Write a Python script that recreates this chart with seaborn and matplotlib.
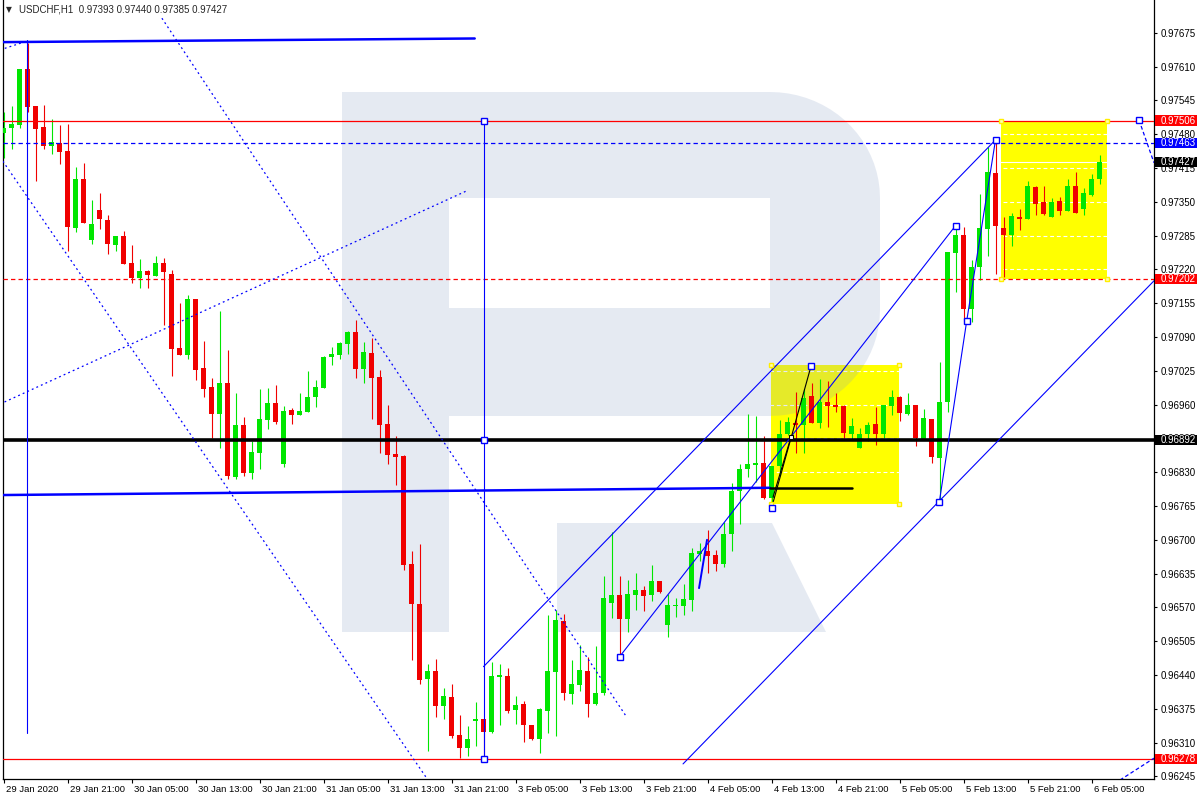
import numpy as np
import matplotlib
matplotlib.use('Agg')
import matplotlib.pyplot as plt
import matplotlib.transforms as mtransforms
from matplotlib.patches import Rectangle, Polygon
import seaborn as sns

# USDCHF H1 candles, 29 Jan 13:00 .. 6 Feb 06:00 (weekend bars skipped)
opens = [0.97483, 0.97492, 0.97498, 0.97605, 0.97534, 0.97493, 0.97458, 0.97463, 0.97448, 0.97300,
         0.97394, 0.97277, 0.97334, 0.97315, 0.97267, 0.97284, 0.97232, 0.97204, 0.97217, 0.97208,
         0.97232, 0.97211, 0.97069, 0.97056, 0.97163, 0.97030, 0.96994, 0.96941, 0.97002, 0.96821,
         0.96921, 0.96828, 0.96867, 0.96930, 0.96964, 0.96846, 0.96950, 0.96940, 0.96946, 0.96975,
         0.96992, 0.97052, 0.97055, 0.97077, 0.97100, 0.97028, 0.97059, 0.97013, 0.96923, 0.96865,
         0.96861, 0.96653, 0.96577, 0.96432, 0.96448, 0.96381, 0.96398, 0.96325, 0.96300, 0.96352,
         0.96355, 0.96330, 0.96436, 0.96438, 0.96373, 0.96384, 0.96344, 0.96317, 0.96371, 0.96446,
         0.96544, 0.96403, 0.96421, 0.96448, 0.96384, 0.96405, 0.96578, 0.96594, 0.96548, 0.96594,
         0.96603, 0.96594, 0.96621, 0.96536, 0.96573, 0.96573, 0.96584, 0.96673, 0.96678, 0.96671,
         0.96653, 0.96711, 0.96794, 0.96836, 0.96844, 0.96848, 0.96780, 0.96842, 0.96903, 0.96925,
         0.96921, 0.96977, 0.96925, 0.96965, 0.96959, 0.96957, 0.96903, 0.96877, 0.96903, 0.96923,
         0.96903, 0.96957, 0.96975, 0.96942, 0.96959, 0.96894, 0.96932, 0.96857, 0.96965, 0.97252,
         0.97286, 0.97144, 0.97225, 0.97298, 0.97405, 0.97300, 0.97286, 0.97321, 0.97317, 0.97378,
         0.97350, 0.97321, 0.97352, 0.97332, 0.97380, 0.97336, 0.97363, 0.97393]
highs = [0.97523, 0.97535, 0.97605, 0.97655, 0.97535, 0.97536, 0.97509, 0.97498, 0.97500, 0.97417,
         0.97424, 0.97353, 0.97367, 0.97325, 0.97284, 0.97294, 0.97267, 0.97240, 0.97219, 0.97246,
         0.97242, 0.97219, 0.97155, 0.97171, 0.97163, 0.97082, 0.97012, 0.97140, 0.97065, 0.96982,
         0.96937, 0.96890, 0.96990, 0.96992, 0.96998, 0.96958, 0.96954, 0.96982, 0.97025, 0.97007,
         0.97053, 0.97071, 0.97081, 0.97102, 0.97123, 0.97080, 0.97088, 0.97027, 0.96959, 0.96900,
         0.96863, 0.96678, 0.96692, 0.96462, 0.96471, 0.96415, 0.96422, 0.96363, 0.96342, 0.96388,
         0.96355, 0.96465, 0.96461, 0.96453, 0.96400, 0.96390, 0.96344, 0.96377, 0.96555, 0.96565,
         0.96557, 0.96469, 0.96498, 0.96475, 0.96496, 0.96630, 0.96715, 0.96630, 0.96623, 0.96636,
         0.96611, 0.96652, 0.96621, 0.96596, 0.96588, 0.96615, 0.96684, 0.96694, 0.96719, 0.96680,
         0.96734, 0.96809, 0.96846, 0.96942, 0.96938, 0.96900, 0.96842, 0.96930, 0.96936, 0.96984,
         0.96990, 0.97002, 0.97009, 0.97005, 0.96982, 0.96959, 0.96934, 0.96915, 0.96927, 0.96955,
         0.96959, 0.96988, 0.96976, 0.96982, 0.96959, 0.96951, 0.96932, 0.97042, 0.97253, 0.97303,
         0.97302, 0.97238, 0.97365, 0.97455, 0.97466, 0.97321, 0.97328, 0.97336, 0.97390, 0.97380,
         0.97380, 0.97357, 0.97359, 0.97394, 0.97407, 0.97376, 0.97403, 0.97440]
lows = [0.97434, 0.97452, 0.97492, 0.97523, 0.97390, 0.97452, 0.97442, 0.97423, 0.97256, 0.97291,
        0.97310, 0.97269, 0.97298, 0.97250, 0.97256, 0.97231, 0.97194, 0.97185, 0.97185, 0.97208,
        0.97113, 0.97014, 0.97056, 0.97048, 0.97008, 0.96975, 0.96896, 0.96877, 0.96817, 0.96817,
        0.96823, 0.96817, 0.96836, 0.96913, 0.96923, 0.96840, 0.96923, 0.96940, 0.96946, 0.96956,
        0.96992, 0.97036, 0.97047, 0.97058, 0.97012, 0.97002, 0.96933, 0.96867, 0.96846, 0.96806,
        0.96641, 0.96468, 0.96422, 0.96293, 0.96360, 0.96355, 0.96319, 0.96280, 0.96284, 0.96303,
        0.96277, 0.96328, 0.96344, 0.96367, 0.96346, 0.96311, 0.96315, 0.96290, 0.96328, 0.96323,
        0.96392, 0.96384, 0.96409, 0.96359, 0.96382, 0.96401, 0.96550, 0.96475, 0.96523, 0.96565,
        0.96563, 0.96582, 0.96598, 0.96513, 0.96552, 0.96555, 0.96563, 0.96659, 0.96636, 0.96640,
        0.96648, 0.96678, 0.96730, 0.96821, 0.96811, 0.96778, 0.96771, 0.96825, 0.96901, 0.96867,
        0.96867, 0.96925, 0.96915, 0.96917, 0.96946, 0.96896, 0.96892, 0.96877, 0.96890, 0.96882,
        0.96896, 0.96940, 0.96928, 0.96940, 0.96880, 0.96892, 0.96848, 0.96773, 0.96946, 0.97177,
        0.97121, 0.97119, 0.97200, 0.97246, 0.97211, 0.97205, 0.97265, 0.97296, 0.97317, 0.97325,
        0.97325, 0.97321, 0.97325, 0.97332, 0.97328, 0.97325, 0.97361, 0.97385]
closes = [0.97492, 0.97500, 0.97605, 0.97533, 0.97490, 0.97458, 0.97464, 0.97446, 0.97302, 0.97394,
          0.97310, 0.97307, 0.97316, 0.97269, 0.97284, 0.97231, 0.97203, 0.97217, 0.97210, 0.97232,
          0.97214, 0.97067, 0.97056, 0.97163, 0.97027, 0.96990, 0.96941, 0.97002, 0.96823, 0.96921,
          0.96828, 0.96869, 0.96932, 0.96964, 0.96927, 0.96948, 0.96940, 0.96948, 0.96975, 0.96994,
          0.97052, 0.97057, 0.97078, 0.97100, 0.97028, 0.97061, 0.97012, 0.96921, 0.96864, 0.96860,
          0.96652, 0.96577, 0.96430, 0.96448, 0.96381, 0.96400, 0.96323, 0.96300, 0.96317, 0.96355,
          0.96330, 0.96438, 0.96440, 0.96371, 0.96382, 0.96344, 0.96317, 0.96375, 0.96448, 0.96546,
          0.96405, 0.96423, 0.96450, 0.96384, 0.96405, 0.96588, 0.96594, 0.96548, 0.96596, 0.96603,
          0.96592, 0.96621, 0.96600, 0.96575, 0.96575, 0.96586, 0.96675, 0.96678, 0.96669, 0.96653,
          0.96711, 0.96794, 0.96836, 0.96846, 0.96848, 0.96780, 0.96842, 0.96903, 0.96927, 0.96921,
          0.96973, 0.96925, 0.96965, 0.96957, 0.96955, 0.96905, 0.96919, 0.96903, 0.96921, 0.96903,
          0.96959, 0.96975, 0.96944, 0.96959, 0.96896, 0.96934, 0.96859, 0.96965, 0.97253, 0.97286,
          0.97144, 0.97225, 0.97300, 0.97407, 0.97303, 0.97286, 0.97323, 0.97317, 0.97380, 0.97346,
          0.97327, 0.97350, 0.97332, 0.97380, 0.97328, 0.97367, 0.97394, 0.97427]

x_tick_labels = ['29 Jan 2020', '29 Jan 21:00', '30 Jan 05:00', '30 Jan 13:00', '30 Jan 21:00',
                 '31 Jan 05:00', '31 Jan 13:00', '31 Jan 21:00', '3 Feb 05:00', '3 Feb 13:00',
                 '3 Feb 21:00', '4 Feb 05:00', '4 Feb 13:00', '4 Feb 21:00', '5 Feb 05:00',
                 '5 Feb 13:00', '5 Feb 21:00', '6 Feb 05:00']
price_ticks = [0.96245, 0.96310, 0.96375, 0.96440, 0.96505, 0.96570, 0.96635, 0.96700, 0.96765,
               0.96830, 0.96895, 0.96960, 0.97025, 0.97090, 0.97155, 0.97220, 0.97285, 0.97350,
               0.97415, 0.97480, 0.97545, 0.97610, 0.97675]

# horizontal levels
level_prices = [0.97506, 0.97463, 0.97202, 0.96892, 0.96278]
level_colors = ['#ff0000', '#0000ff', '#ff0000', '#000000', '#ff0000']

# drawn objects, (bar index, price)
trend_a = ([60, 124], [0.96456, 0.97469])
trend_b = ([77, 119], [0.96475, 0.97304])
trend_c = ([84.94, 143.81], [0.96269, 0.97198])
zigzag = ([116.98, 120.4, 124], [0.96773, 0.97121, 0.97469])
short_blue = ([86.94, 87.94], [0.96607, 0.96700])
black_zig = ([96.0, 100.94], [0.96761, 0.97034])
black_zig2 = ([96.19, 98.44], [0.96782, 0.96898])
top_thick = ([-0.06, 58.9], [0.97657, 0.97664])
mid_thick = ([-0.44, 95.8], [0.96786, 0.96800])
black_short = ([95.8, 106.06], [0.96800, 0.96800])
dotted_a = ([-0.44, 53.06], [0.97436, 0.96238])
dotted_b = ([19.8, 77.9], [0.97703, 0.96359])
dotted_c = ([-0.44, 57.9], [0.96961, 0.97371])
dotted_d = ([-0.44, 2.94], [0.97642, 0.97659])
dash_right = ([141.94, 143.81], [0.97507, 0.97425])
dash_bottom = ([139.56, 143.81], [0.96238, 0.96280])
vline_left = ([2.94, 2.94], [0.97661, 0.96328])
vline_mid = ([60, 60], [0.97506, 0.96278])
blue_squares = ([60, 60, 60, 77, 96.0, 100.94, 116.98, 119, 120.4, 124, 141.94],
                [0.97506, 0.96892, 0.96278, 0.96475, 0.96761, 0.97034, 0.96773, 0.97304,
                 0.97121, 0.97469, 0.97507])
boxes = [(95.9, 111.9, 0.96769, 0.97036), (124.7, 137.98, 0.97202, 0.97506)]

# ---------------------------------------------------------------
sns.set_style('white')
plt.rcParams['font.family'] = ['Liberation Sans', 'DejaVu Sans']

fig = plt.figure(figsize=(12, 8), dpi=100)
ax = fig.add_axes([2.5 / 1200, 21 / 800, 1151.5 / 1200, 779 / 800])
ax.set_xlim(-0.125, 143.81)
ax.set_ylim(0.96240, 0.97738)

W_AX, H_AX = 1151.5, 779.0


def af(x, y):
    return ((x - 2.5) / W_AX, 1 - y / H_AX)


# watermark logo
wm_col = (0.53, 0.62, 0.775)
t1 = np.linspace(np.pi / 2, 0, 20)
t2 = np.linspace(0, -np.pi / 2, 20)
outer = [(342, 92), (770, 92)]
outer += [(770 + 110 * np.cos(t), 198 - 106 * np.sin(t)) for t in t1]
outer += [(770 + 110 * np.cos(t), 310 - 106 * np.sin(t)) for t in t2]
outer += [(449, 416), (449, 632), (342, 632)]
ax.add_patch(Polygon([af(*p) for p in outer], closed=True, transform=ax.transAxes,
                     fc=wm_col, ec='none', alpha=0.21, zorder=1.5))
ax.add_patch(Polygon([af(449, 198), af(770, 198), af(770, 308), af(449, 308)], closed=True,
                     transform=ax.transAxes, fc='white', ec='none', zorder=1.55))
ax.add_patch(Polygon([af(557, 523), af(772, 523), af(826, 632), af(557, 632)], closed=True,
                     transform=ax.transAxes, fc=wm_col, ec='none', alpha=0.21, zorder=1.5))

# yellow boxes
for x0, x1, p0, p1 in boxes:
    ax.add_patch(Rectangle((x0, p0), x1 - x0, p1 - p0, fc='#ffff00', ec='none', zorder=1))
    ax.plot([x0, x1, x0, x1], [p0, p0, p1, p1], ls='none', marker='s', ms=3.5,
            mfc='#ffffb0', mec='#ffee00', mew=1, zorder=5)

# white dashed grid (only visible on the yellow)
for p in price_ticks:
    ax.axhline(p, color='white', lw=0.8, ls=(0, (3.5, 2.5)), zorder=1.2)

# candles
o = np.array(opens)
h = np.array(highs)
l = np.array(lows)
c = np.array(closes)
xs = np.arange(len(o))
up = c >= o
cols = np.where(up, '#00e600', '#f00000')
ax.vlines(xs, l, h, colors=cols, lw=0.8, zorder=3)
body_low = np.minimum(o, c)
body_h = np.maximum(np.abs(c - o), 1.6e-5)
ax.bar(xs, body_h, bottom=body_low, width=0.62, color=cols, linewidth=0, zorder=3.1)

# levels
styles = ['-', (0, (3.5, 2.5)), (0, (3.5, 2.5)), '-', '-']
widths = [0.9, 0.9, 0.9, 2.6, 0.9]
for p, col, st, w in zip(level_prices, level_colors, styles, widths):
    ax.axhline(p, color=col, ls=st, lw=w, zorder=4)

blue = '#0000ff'
dot = (0, (1.5, 2.5))
for seg in [trend_a, trend_b, trend_c, zigzag, vline_mid, vline_left]:
    ax.plot(*seg, color=blue, lw=0.8, zorder=4)
ax.plot(*short_blue, color=blue, lw=1.4, zorder=4)
for seg in [top_thick, mid_thick]:
    ax.plot(*seg, color=blue, lw=1.8, zorder=4)
for seg in [dotted_a, dotted_b, dotted_c, dotted_d]:
    ax.plot(*seg, color=blue, lw=0.9, ls=dot, zorder=4)
for seg in [dash_right, dash_bottom]:
    ax.plot(*seg, color=blue, lw=0.9, ls=(0, (3, 2)), zorder=4)
ax.plot(*black_short, color='black', lw=1.8, zorder=4)
ax.plot(*black_zig, color='black', lw=0.8, zorder=4)
ax.plot(*black_zig2, color='black', lw=0.8, zorder=4)
ax.plot(black_zig2[0][1], black_zig2[1][1], marker='s', ms=3.5, mfc='white', mec='black',
        mew=0.8, zorder=5)
ax.plot(*blue_squares, ls='none', marker='s', ms=4, mfc='white', mec=blue, mew=1, zorder=5)

# bid line (white)
ax.axhline(closes[-1], color='white', lw=0.8, zorder=1.3)

# axes styling
for side in ['left', 'right', 'bottom']:
    ax.spines[side].set_visible(True)
    ax.spines[side].set_color('black')
    ax.spines[side].set_linewidth(0.9)
ax.spines['top'].set_visible(False)

ax.yaxis.tick_right()
ax.set_yticks(price_ticks)
ax.set_yticklabels([f'{p:.5f}' for p in price_ticks])
ax.tick_params(axis='y', direction='out', length=2.4, width=0.8, pad=2.6, labelsize=7,
               colors='black', right=True, left=False)
ax.set_xticks(xs[::8])
ax.set_xticklabels(x_tick_labels, ha='left')
ax.tick_params(axis='x', direction='out', length=3, width=0.8, pad=1.5, labelsize=6.8,
               colors='black', bottom=True)
shift = mtransforms.ScaledTranslation(0.02, 0, fig.dpi_scale_trans)
for lab in ax.get_xticklabels():
    lab.set_transform(lab.get_transform() + shift)
ax.grid(False)

# price labels on the scale
tag_prices = [0.97506, 0.97463, closes[-1], 0.97202, 0.96892, 0.96278]
tag_colors = ['#ff0000', '#0000ff', '#000000', '#ff0000', '#000000', '#ff0000']
btrans = mtransforms.blended_transform_factory(ax.transAxes, ax.transData)
px_p = (0.97738 - 0.96240) / 779
for p, col in zip(tag_prices, tag_colors):
    ax.add_patch(Rectangle((af(1155.3, 0)[0], p - 5.2 * px_p), 41.4 / W_AX, 10.4 * px_p,
                           transform=btrans, fc=col, ec='none', clip_on=False, zorder=6))
    ax.text(af(1160.5, 0)[0], p, f'{p:.5f}', transform=btrans, color='white', fontsize=7,
            ha='left', va='center', clip_on=False, zorder=7)

# header
ax.text(*af(6, 10), '\u25bc', transform=ax.transAxes, fontsize=5.5, va='center', ha='left',
        family=['DejaVu Sans'], zorder=7)
ax.text(*af(19, 10), f'USDCHF,H1  {opens[-1]:.5f} {highs[-1]:.5f} {lows[-1]:.5f} {closes[-1]:.5f}',
        transform=ax.transAxes, fontsize=7, va='center', ha='left', zorder=7)

fig.savefig('out.png', dpi=100)
